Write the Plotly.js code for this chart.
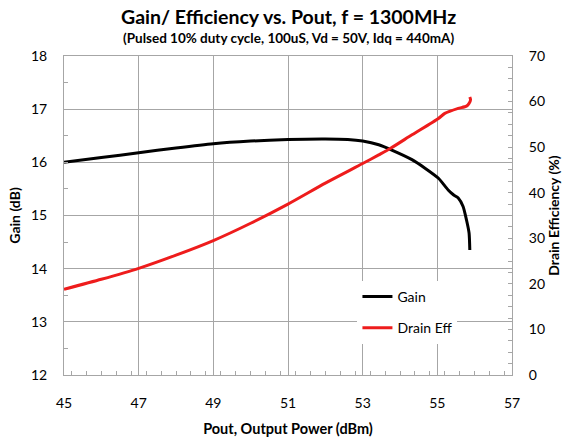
<!DOCTYPE html>
<html><head><meta charset="utf-8">
<script src="https://cdn.plot.ly/plotly-3.0.1.min.js"></script>
<style>html,body{margin:0;padding:0;background:#fff}#c{width:564px;height:437px}</style>
</head><body><div id="c"></div>
<script>
const gainPout = [45.0, 46.0, 47.0, 48.0, 49.0, 50.0, 51.0, 52.0, 52.6, 53.0, 53.43, 53.78, 54.32, 54.67, 55.03, 55.29, 55.43, 55.56, 55.69, 55.78, 55.85, 55.87];
const gainDb   = [16.0, 16.09, 16.18, 16.27, 16.35, 16.40, 16.43, 16.44, 16.43, 16.40, 16.33, 16.23, 16.05, 15.89, 15.70, 15.48, 15.39, 15.33, 15.17, 14.92, 14.67, 14.35];
const effPout  = [45.0, 46.0, 47.0, 48.0, 49.0, 50.0, 51.0, 52.0, 53.0, 53.43, 53.74, 54.32, 55.03, 55.2, 55.56, 55.78, 55.85, 55.89, 55.87];
const effPct   = [18.8, 21.0, 23.4, 26.3, 29.5, 33.3, 37.5, 42.1, 46.4, 48.3, 49.7, 52.7, 56.3, 57.4, 58.5, 59.0, 59.6, 60.4, 61.0];
const xTicks = [45, 47, 49, 51, 53, 55, 57];
const gainTicks = [12, 13, 14, 15, 16, 17, 18];
const effTicks = [0, 10, 20, 30, 40, 50, 60, 70];
const titleText = 'Gain/ Efficiency vs. Pout, f = 1300MHz';
const subtitleText = '(Pulsed 10% duty cycle, 100uS, Vd = 50V, Idq = 440mA)';

const F = 'Lato, "Open Sans", sans-serif';
const grid = '#a6a6a6';
const data = [
  {x: gainPout, y: gainDb, name: 'Gain', type: 'scatter', mode: 'lines', line: {color: '#000000', width: 3, shape: 'spline', smoothing: 0.6}, legendgroup: 'a'},
  {x: effPout, y: effPct, name: 'Drain Eff', type: 'scatter', mode: 'lines', yaxis: 'y2', line: {color: '#ee1c1c', width: 3, shape: 'spline', smoothing: 0.6}, legendgroup: 'b'}
];
const layout = {
  width: 564, height: 437,
  margin: {l: 64, r: 52, t: 56, b: 62},
  paper_bgcolor: '#ffffff', plot_bgcolor: '#ffffff',
  font: {family: F, color: '#000000', size: 14},
  annotations: [
    {text: '<b>' + titleText + '</b>', xref: 'paper', yref: 'paper', x: 0.5, y: 1 + (56 - 17) / 319, showarrow: false, font: {family: F, size: 19.5}, xanchor: 'center', yanchor: 'middle'},
    {text: '<b>' + subtitleText + '</b>', xref: 'paper', yref: 'paper', x: 0.5, y: 1 + (56 - 38) / 319, showarrow: false, font: {family: F, size: 13.5}, xanchor: 'center', yanchor: 'middle'}
  ],
  showlegend: true,
  legend: {x: 0.655, y: 0.295, xanchor: 'left', yanchor: 'top', bgcolor: '#ffffff', borderwidth: 0, font: {family: F, size: 14}, tracegroupgap: 10, traceorder: 'grouped'},
  xaxis: {range: [45, 57], tickvals: xTicks, ticktext: xTicks.map(String), showgrid: true, gridcolor: grid, gridwidth: 1,
    showline: true, linecolor: grid, linewidth: 1, mirror: true, ticks: 'inside', ticklen: 0, tickcolor: grid,
    minor: {dtick: 0.4, ticks: 'inside', ticklen: 4, tickcolor: grid, showgrid: false},
    ticklabelstandoff: 15, zeroline: false, tickfont: {family: F, size: 14},
    title: {text: '<b>Pout, Output Power (dBm)</b>', font: {family: F, size: 14.5}, standoff: 17}},
  yaxis: {range: [12, 18], tickvals: gainTicks, ticktext: gainTicks.map(String), showgrid: true, gridcolor: grid, gridwidth: 1,
    showline: true, linecolor: grid, linewidth: 1, ticks: 'inside', ticklen: 0, tickcolor: grid,
    minor: {dtick: 0.5, ticks: 'inside', ticklen: 4, tickcolor: grid, showgrid: false},
    ticklabelstandoff: 13, zeroline: false, tickfont: {family: F, size: 14},
    title: {text: '<b>Gain (dB)</b>', font: {family: F, size: 14}, standoff: 7}},
  yaxis2: {range: [0, 70], overlaying: 'y', side: 'right', tickvals: effTicks, ticktext: effTicks.map(String), showgrid: false,
    showline: true, linecolor: grid, linewidth: 1, ticks: 'inside', ticklen: 0, tickcolor: grid,
    minor: {dtick: 2.5, ticks: 'inside', ticklen: 4, tickcolor: grid, showgrid: false},
    ticklabelstandoff: 13, zeroline: false, tickfont: {family: F, size: 14},
    title: {text: '<b>Drain Efficiency (%)</b>', font: {family: F, size: 14}, standoff: 5}}
};
Plotly.newPlot('c', data, layout, {staticPlot: true, displayModeBar: false});
</script></body></html>
